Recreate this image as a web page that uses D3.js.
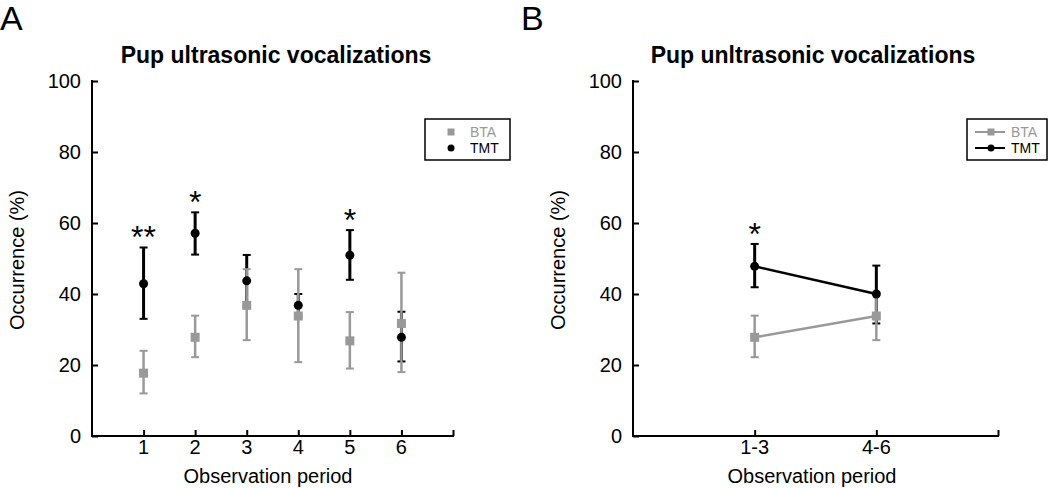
<!DOCTYPE html>
<html><head><meta charset="utf-8">
<script src="https://cdn.jsdelivr.net/npm/d3@7"></script>
<style>body{margin:0;background:#fff}svg{font-family:"Liberation Sans",Arial,sans-serif}</style>
</head><body>
<svg id="c" width="1050" height="488"></svg>
<script>
// Panel A data
const periodsA = [1,2,3,4,5,6];
const btaA = [17.7, 27.8, 36.8, 33.8, 26.8, 31.7];
const btaA_hi = [24, 33.9, 47, 47, 34.9, 46];
const btaA_lo = [12, 22.2, 27, 20.8, 19, 18];
const tmtA = [42.9, 57.1, 43.7, 36.8, 50.9, 27.8];
const tmtA_hi = [53.1, 63, 51, 40, 58, 35];
const tmtA_lo = [33, 51.1, 36.5, 33.6, 44, 21];
const sigA = ["**","*","","","*",""];
// Panel B data
const periodsB = ["1-3","4-6"];
const btaB = [27.8, 33.8];
const btaB_hi = [33.9, 40.5];
const btaB_lo = [22.2, 27];
const tmtB = [47.8, 40];
const tmtB_hi = [54.1, 48];
const tmtB_lo = [41.9, 31.7];
const sigB = ["*",""];
const yTicks = [0,20,40,60,80,100];
const GRAY = "#999";

const svg = d3.select("#c");
const y = d3.scaleLinear().domain([0,100]).range([436,81]);

function panel(o){
  const g = svg.append("g");
  const x = d3.scaleLinear().domain([0,o.n+1]).range([o.x0,o.x1]);
  // axes
  const ya = d3.axisRight(y).tickValues(yTicks).tickSize(6).tickFormat("");
  g.append("g").attr("transform",`translate(${o.x0},0)`).call(ya)
    .call(s=>{s.select(".domain").remove(); s.selectAll("line").attr("stroke","#000").attr("stroke-width",2);});
  g.append("line").attr("x1",o.x0).attr("x2",o.x0).attr("y1",y(100)-1).attr("y2",y(0)+1).attr("stroke","#000").attr("stroke-width",2);
  g.selectAll(".yl").data(yTicks).enter().append("text").attr("x",o.x0-11).attr("y",d=>y(d)+7)
    .attr("text-anchor","end").attr("font-size",20).text(d=>d);
  const xt = d3.range(1,o.n+1);
  const xa = d3.axisTop(x).tickValues(xt.concat([o.n+1])).tickSize(6).tickFormat("");
  g.append("g").attr("transform",`translate(0,${y(0)})`).call(xa)
    .call(s=>{s.select(".domain").remove(); s.selectAll("line").attr("stroke","#000").attr("stroke-width",2);});
  g.append("line").attr("x1",o.x0-1).attr("x2",o.x1+1).attr("y1",y(0)).attr("y2",y(0)).attr("stroke","#000").attr("stroke-width",2);
  g.selectAll(".xl").data(xt).enter().append("text").attr("x",d=>x(d)).attr("y",454)
    .attr("text-anchor","middle").attr("font-size",20).text((d,i)=>o.labels[i]);
  g.append("text").attr("x",o.xlx).attr("y",483).attr("text-anchor","middle").attr("font-size",20).text("Observation period");
  g.append("text").attr("transform",`translate(${o.x0-68},260) rotate(-90)`).attr("text-anchor","middle").attr("font-size",20).text("Occurrence (%)");
  g.append("text").attr("x",o.tx).attr("y",63).attr("text-anchor","middle").attr("font-size",23).attr("font-weight","bold").text(o.title);
  g.append("text").attr("x",o.lx).attr("y",30).attr("font-size",34).text(o.letter);

  const line = d3.line().x((d,i)=>x(i+1)).y(d=>y(d));
  if(o.lines){
    g.append("path").attr("d",line(o.tmt)).attr("fill","none").attr("stroke","#000").attr("stroke-width",2.5);
    g.append("path").attr("d",line(o.bta)).attr("fill","none").attr("stroke",GRAY).attr("stroke-width",2.5);
  }
  function ebar(vals,hi,lo,col,w){
    vals.forEach((v,i)=>{
      const cx = x(i+1);
      g.append("line").attr("x1",cx).attr("x2",cx).attr("y1",y(hi[i])).attr("y2",y(lo[i])).attr("stroke",col).attr("stroke-width",w);
      [hi[i],lo[i]].forEach(e=>g.append("line").attr("x1",cx-4).attr("x2",cx+4).attr("y1",y(e)).attr("y2",y(e)).attr("stroke",col).attr("stroke-width",2));
    });
  }
  ebar(o.tmt,o.tmtHi,o.tmtLo,"#000",3);
  ebar(o.bta,o.btaHi,o.btaLo,GRAY,2.5);
  g.selectAll(".tm").data(o.tmt).enter().append("circle").attr("cx",(d,i)=>x(i+1)).attr("cy",d=>y(d)).attr("r",4.5).attr("fill","#000");
  g.selectAll(".bm").data(o.bta).enter().append("rect").attr("x",(d,i)=>x(i+1)-4.5).attr("y",d=>y(d)-4.5).attr("width",9).attr("height",9).attr("fill",GRAY);
  g.selectAll(".sg").data(o.sig).enter().append("text").attr("x",(d,i)=>x(i+1)).attr("y",(d,i)=>y(o.tmtHi[i])+1)
    .attr("text-anchor","middle").attr("font-size",32).text(d=>d);
  // legend
  const L = o.leg;
  g.append("rect").attr("x",L.x).attr("y",L.y).attr("width",L.w).attr("height",41).attr("fill","#fff").attr("stroke","#000").attr("stroke-width",1.5);
  [["BTA",GRAY],["TMT","#000"]].forEach(([t,c],i)=>{
    const yy = L.y+13+i*16;
    if(o.lines){
      g.append("line").attr("x1",L.x+8).attr("x2",L.x+38).attr("y1",yy).attr("y2",yy).attr("stroke",c).attr("stroke-width",2);
    }
    if(i===0) g.append("rect").attr("x",L.mx-3.5).attr("y",yy-3.5).attr("width",7).attr("height",7).attr("fill",c);
    else g.append("circle").attr("cx",L.mx).attr("cy",yy).attr("r",3.5).attr("fill",c);
    g.append("text").attr("x",L.tx).attr("y",yy+5).attr("font-size",14).attr("fill",c).text(t);
  });
}

panel({n:6,x0:92,x1:453,labels:periodsA,bta:btaA,btaHi:btaA_hi,btaLo:btaA_lo,tmt:tmtA,tmtHi:tmtA_hi,tmtLo:tmtA_lo,sig:sigA,
  lines:false,title:"Pup ultrasonic vocalizations",tx:276,xlx:268,letter:"A",lx:0,leg:{x:425,y:119,w:85,mx:451,tx:470}});
panel({n:2,x0:633,x1:998,labels:periodsB,bta:btaB,btaHi:btaB_hi,btaLo:btaB_lo,tmt:tmtB,tmtHi:tmtB_hi,tmtLo:tmtB_lo,sig:sigB,
  lines:true,title:"Pup unltrasonic vocalizations",tx:813,xlx:812,letter:"B",lx:521,leg:{x:967,y:119,w:80,mx:991,tx:1011}});
</script>
</body></html>
